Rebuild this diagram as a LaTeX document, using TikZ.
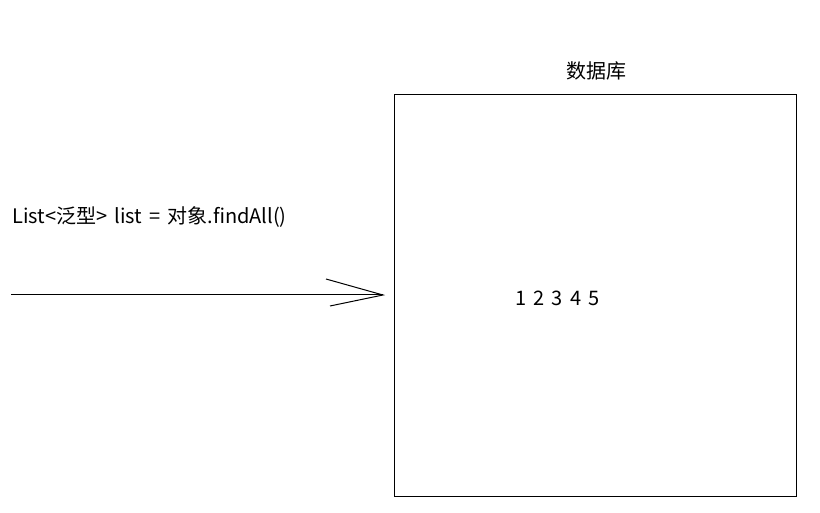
\documentclass[tikz,border=0pt]{standalone}
\usepackage{fontspec}
\setmainfont[WordSpace=1.6]{Noto Sans CJK SC}
\begin{document}
\begin{tikzpicture}[x=1pt,y=-1pt,
  lbl/.style={inner sep=0pt,font=\fontsize{20}{22}\selectfont,anchor=west},
  thin line/.style={line width=1pt,black}]
\useasboundingbox[fill=white] (0,0) rectangle (820,513);
\node[draw,thin line,minimum width=402pt,minimum height=402pt,inner sep=0pt,anchor=north west] (db) at (394,94) {};
\node[inner sep=0pt,font=\fontsize{20}{22}\selectfont] (dbl) at (596,71) {数据库};
\node[lbl] (code) at (12,217) {List<泛型> list = 对象.findAll()};
\node[lbl] (nums) at (515,298) {1 2 3 4 5};
\coordinate (start) at (11,295);
\coordinate (tip) at (383,295);
\coordinate (w1) at (326,279);
\coordinate (w2) at (330,306);
\draw[thin line] (start) -- (tip);
\draw[thin line] (w1) -- (tip) -- (w2);
\end{tikzpicture}
\end{document}
